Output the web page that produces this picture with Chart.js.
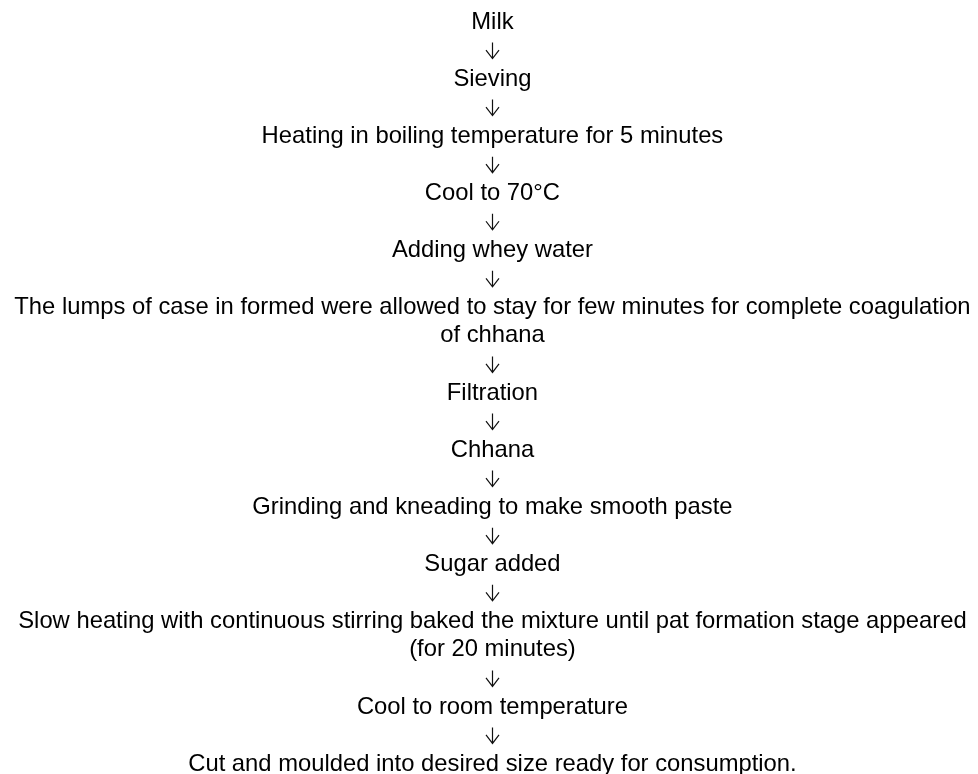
<!DOCTYPE html>
<html>
<head>
<meta charset="utf-8">
<script src="https://cdn.jsdelivr.net/npm/chart.js@4"></script>
<style>
  html, body { margin: 0; padding: 0; background: #fff; }
  #wrap { width: 978px; height: 774px; }
</style>
</head>
<body>
<div id="wrap"><canvas id="flow-chart"></canvas></div>
<script>
// process steps, top to bottom (arrays = wrapped lines)
var steps = [
  "Milk",
  "Sieving",
  "Heating in boiling temperature for 5 minutes",
  "Cool to 70\u00B0C",
  "Adding whey water",
  ["The lumps of case in formed were allowed to stay for few minutes for complete coagulation", "of chhana"],
  "Filtration",
  "Chhana",
  "Grinding and kneading to make smooth paste",
  "Sugar added",
  ["Slow heating with continuous stirring baked the mixture until pat formation stage appeared", "(for 20 minutes)"],
  "Cool to room temperature",
  "Cut and moulded into desired size ready for consumption."
];
var arrow = "\u2193";

// one row per text line, one row per arrow between steps
var rows = [];
var rowText = [];
var r = 0;
steps.forEach(function (s, i) {
  var lines = Array.isArray(s) ? s : [s];
  lines.forEach(function (l) { rows.push(r); rowText.push(l); r++; });
  if (i < steps.length - 1) { rows.push(r); rowText.push(arrow); r++; }
});

var flowText = {
  id: 'flowText',
  afterDatasetsDraw: function (chart) {
    var ctx = chart.ctx;
    var meta = chart.getDatasetMeta(0);
    ctx.save();
    ctx.fillStyle = '#000';
    ctx.strokeStyle = '#111';
    ctx.lineWidth = 1.2;
    ctx.textAlign = 'center';
    ctx.textBaseline = 'middle';
    ctx.font = '23.8px "Liberation Sans", Arial, sans-serif';
    meta.data.forEach(function (pt, i) {
      var x = Math.round(pt.x) + 0.5, y = pt.y;
      if (rowText[i] === arrow) {
        // thin down arrow like the Arial glyph
        ctx.beginPath();
        ctx.moveTo(x, y - 8);
        ctx.lineTo(x, y + 8);
        ctx.moveTo(x - 6.5, y - 0.5);
        ctx.lineTo(x, y + 8);
        ctx.lineTo(x + 6.5, y - 0.5);
        ctx.stroke();
      } else {
        ctx.fillText(rowText[i], pt.x, y);
      }
    });
    ctx.restore();
  }
};

new Chart(document.getElementById("flow-chart"), {
  type: 'scatter',
  data: {
    datasets: [{
      data: rows.map(function (y) { return { x: 0, y: y }; }),
      pointRadius: 0,
      showLine: false
    }]
  },
  options: {
    responsive: true,
    maintainAspectRatio: false,
    animation: false,
    layout: { padding: 0 },
    plugins: { legend: { display: false }, tooltip: { enabled: false } },
    scales: {
      x: { display: false, min: -1, max: 0.986 },
      y: { display: false, reverse: true, min: -0.77, max: 26.35 }
    }
  },
  plugins: [flowText]
});
</script>
</body>
</html>
